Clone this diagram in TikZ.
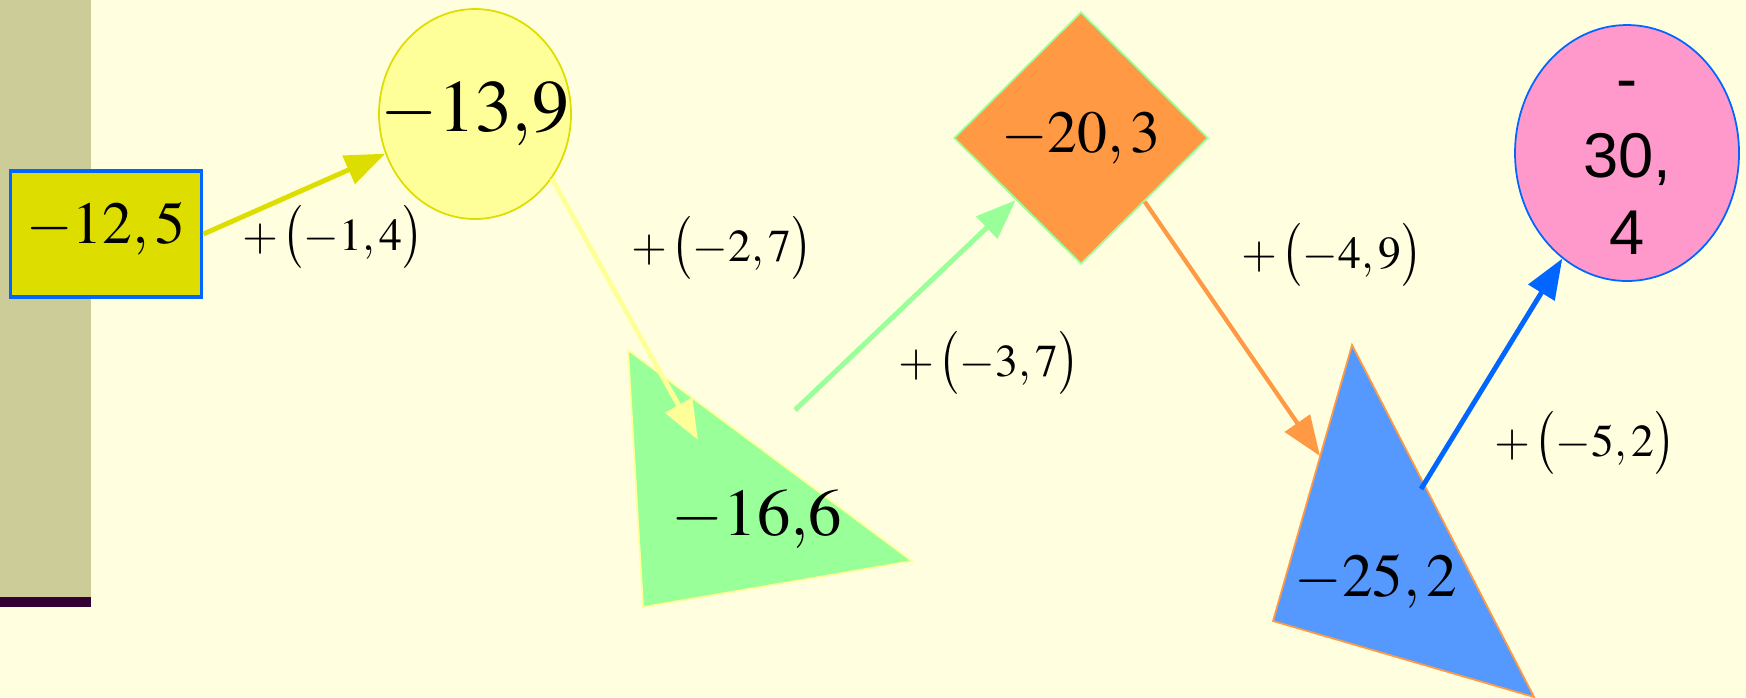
\documentclass[tikz,border=0pt]{standalone}
\usepackage{fontspec}
\newfontfamily\sqsans{Liberation Sans}
\usepackage{mathptmx}
\usepackage{graphicx}
\usepackage{tikz}
\usetikzlibrary{positioning,arrows.meta,shapes.geometric}
\definecolor{sqfundo}{HTML}{FFFFE0}
\definecolor{sqbarra}{HTML}{CCCC99}
\definecolor{sqlinha}{HTML}{330033}
\definecolor{sqamarelo}{HTML}{DDDD00}
\definecolor{sqamareloclaro}{HTML}{FFFF99}
\definecolor{sqverde}{HTML}{99FF99}
\definecolor{sqlaranja}{HTML}{FF9944}
\definecolor{sqazul}{HTML}{0066FF}
\definecolor{sqazulclaro}{HTML}{5599FF}
\definecolor{sqrosa}{HTML}{FF99CC}
\tikzset{
  sqvalor/.style={inner sep=0pt, align=center, line width=0.5pt},
  sqseta/.style={-{Triangle[length=4mm, width=3mm]}, line width=1.4pt},
  sqrotulo/.style={inner sep=0pt, font=\fontsize{13}{15}\selectfont},
}
% rotulo de aresta: +( ... ) com parenteses altos
\newcommand{\sqpasso}[1]{${+}\mkern2mu\mathopen{\scalebox{1}[1.15]{$\bigl($}}#1\mathclose{\scalebox{1}[1.15]{$\bigr)$}}$}

\begin{document}
\begin{tikzpicture}[x=0.1mm, y=-0.1mm]
        % ---------------- fundo e barra lateral ----------------
        \useasboundingbox (0,0) rectangle (1746,697);
        \fill[sqfundo] (0,0) rectangle (1746,697);
        \fill[sqbarra] (0,0) rectangle (91,597);
        \fill[sqlinha] (0,597) rectangle (91,607);
        % ---------------- valores ----------------
        \node[sqvalor, draw=sqazul, fill=sqamarelo, line width=1.1pt, minimum width=19.1mm, minimum height=12.6mm, text height=11.5pt, text depth=6pt, font=\fontsize{17}{20}\selectfont] (v1) at (106,234) {$-12,5$};
        \node[sqvalor, ellipse, draw=sqamarelo, fill=sqamareloclaro, minimum width=19.2mm, minimum height=21mm, font=\fontsize{21}{24}\selectfont] (v2) at (475,114) {\makebox[0pt]{$-13{,}9$}};
        \filldraw[fill=sqverde, draw=sqamareloclaro, line width=0.5pt] (628,350) -- (912,561) -- (643,607) -- cycle;
        \node[sqvalor, font=\fontsize{19}{22}\selectfont] (v3) at (757,519) {$-16{,}6$};
        \node[sqvalor, diamond, draw=sqverde, fill=sqlaranja, minimum width=25.4mm, minimum height=25.2mm, font=\fontsize{17}{20}\selectfont] (v4) at (1081,138) {$-20,3$};
        \filldraw[fill=sqazulclaro, draw=sqlaranja, line width=0.5pt] (1352,345) -- (1534,697) -- (1273,621) -- cycle;
        \node[sqvalor, font=\fontsize{17.4}{20}\selectfont] (v5) at (1376,582) {$-25,2$};
        \node[sqvalor, ellipse, draw=sqazul, fill=sqrosa, minimum width=22.4mm, minimum height=25.6mm] (v6) at (1627,153) {};
        \node[sqvalor, font=\sqsans\fontsize{18}{22}\selectfont] (v6t) at (1627,168) {-\\30,\\4};
        % ---------------- pontos livres nos triangulos ----------------
        \coordinate (v3in) at (698,440);
        \coordinate (v3out) at (795,410);
        \coordinate (v5in) at (1320,456);
        \coordinate (v5out) at (1421,489);
        % ---------------- rotulos ----------------
        \node[sqrotulo] (r1) at (333,237) {\sqpasso{-1,4}};
        \node[sqrotulo] (r2) at (722,248) {\sqpasso{-2,7}};
        \node[sqrotulo] (r3) at (989,363) {\sqpasso{-3,7}};
        \node[sqrotulo] (r4) at (1332,255) {\sqpasso{-4,9}};
        \node[sqrotulo] (r5) at (1585,443) {\sqpasso{-5,2}};
        % ---------------- setas ----------------
        \draw[sqseta, sqamarelo] (v1.east) -- (v2);
        \draw[sqseta, sqamareloclaro] (v2.-40) -- (v3in);
        \draw[sqseta, sqverde] (v3out) -- (v4);
        \draw[sqseta, sqlaranja, line width=1.2pt] (v4.-45) -- (v5in);
        \draw[sqseta, sqazul] (v5out) -- (v6);
    \end{tikzpicture}
\end{document}
